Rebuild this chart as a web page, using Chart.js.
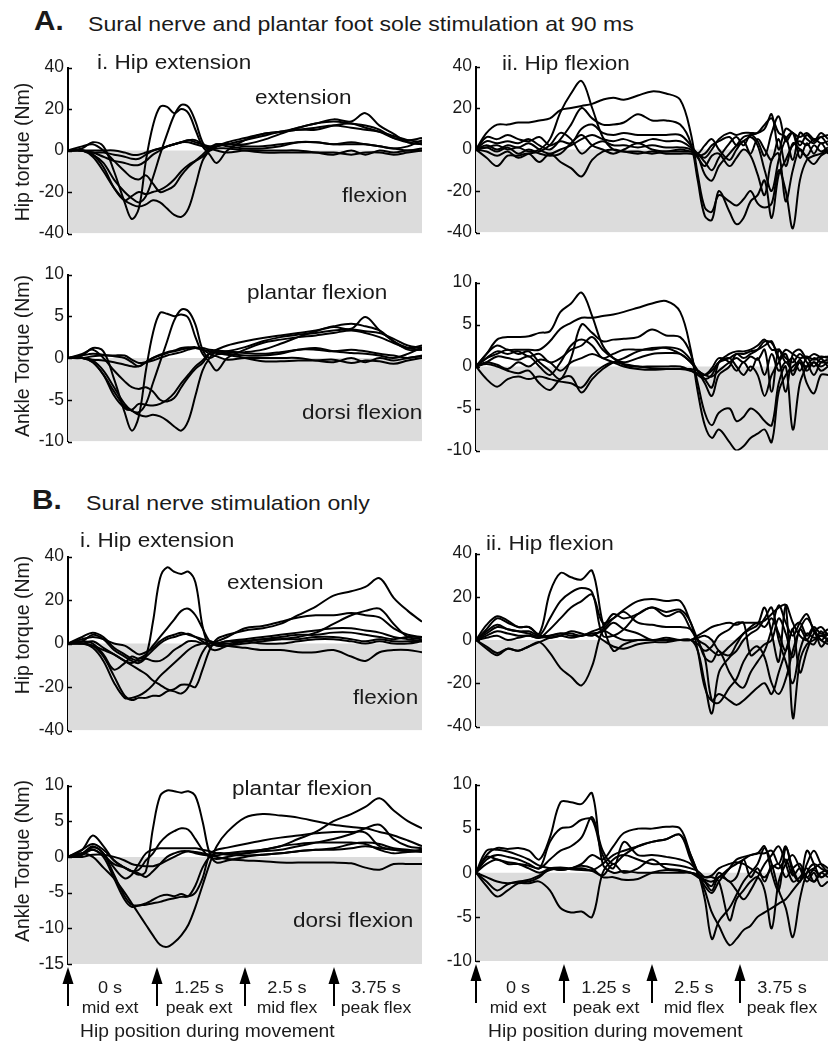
<!DOCTYPE html>
<html><head><meta charset="utf-8">
<script src="https://cdn.jsdelivr.net/npm/chart.js@4.4.1/dist/chart.umd.min.js"></script>
<style>
html,body{margin:0;padding:0;background:#fff;}
body{width:828px;height:1045px;position:relative;overflow:hidden;font-family:"Liberation Sans",Arial,Helvetica,sans-serif;color:#1a1a1a;}
canvas{position:absolute;z-index:1;}
.t{position:absolute;white-space:nowrap;line-height:1;z-index:5;}
</style>
</head><body>
<script>
// ---------- DATA ----------
const timeLeft  = [0,0.2,0.35,0.5,0.65,0.8,0.9,1.0,1.1,1.2,1.3,1.4,1.5,1.6,1.7,1.8,1.9,2.0,2.1,2.25,2.5,2.75,3.0,3.25,3.5,3.75,4.0,4.2,4.4,4.6,4.8,5.0];
const timeRight = [0,0.15,0.3,0.45,0.6,0.75,0.9,1.05,1.2,1.35,1.5,1.65,1.8,1.95,2.1,2.3,2.5,2.7,2.9,3.05,3.15,3.25,3.35,3.45,3.6,3.7,3.8,3.9,4.0,4.1,4.2,4.3,4.4,4.5,4.6,4.7,4.8,4.9,5.0];

const markerTimes  = [0, 1.25, 2.5, 3.75];
const markerTimeLabels  = ['0 s','1.25 s','2.5 s','3.75 s'];
const markerPhaseLabels = ['mid ext','peak ext','mid flex','peak flex'];

// A. sural + plantar, i. hip extension, hip torque (Nm)
const hipA_ext = [
 [0,1,4,2,-10,-25,-33,-28,-5,12,21,21,18,20,18,10,2,-2,-6,0,5,8,9,10,10,12,13,11,9,6,5,6],
 [0,0,-2,-6,-14,-20,-23,-25,-22,-13,-2,8,17,22,21,14,4,0,2,3,3,5,8,11,13,15,14,18,12,8,4,3],
 [0,0,-3,-10,-18,-24,-26,-27,-26,-24,-25,-28,-31,-32,-28,-17,-5,0,3,2,1,1,2,4,4,3,4,3,2,1,0,1],
 [0,0,-1,-1,-2,-3,-4,-4,-2,0,1,2,3,4,5,5,3,1,0,-1,0,0,0,0,-1,-2,0,-2,0,-1,0,0],
 [0,2,3,0,-5,-10,-13,-14,-12,-16,-20,-19,-17,-12,-8,-5,-2,1,2,3,5,7,9,10,11,12,11,10,9,7,5,4],
 [0,0,-1,-3,-5,-6,-7,-7,-5,-2,0,2,3,4,4,3,2,1,1,1,0,-1,-1,-1,-1,-1,-2,-1,-1,-2,-1,0],
 [0,0,0,0,0,-1,-2,-2,-1,0,1,2,3,4,5,4,3,2,3,3,2,2,3,4,4,3,3,3,2,1,2,5],
 [0,0,-2,-8,-18,-24,-22,-20,-21,-20,-19,-17,-14,-10,-7,-5,-3,0,2,4,6,8,9,11,13,14,13,12,10,6,4,3]
];
// A. i. ankle torque (Nm)
const ankleA_ext = [
 [0,0.3,1.2,0.8,-2.5,-6.5,-8.7,-7,-1.5,3,5.4,5.3,5,5.2,4.8,2.5,0.5,-0.5,-1.5,0,1,1.8,2.2,2.5,2.7,3,3.3,3,2.5,1.8,1.2,1.5],
 [0,0,-0.3,-1.5,-3.5,-5.5,-6.3,-6.5,-5.5,-3,-0.5,2,4.5,5.8,5.6,4,1,0,0.4,0.6,0.7,1,1.7,2.5,3.2,3.7,3.5,4.9,3.3,2,1,1],
 [0,0,-0.5,-2,-4,-5.8,-6.3,-6.8,-7,-6.8,-7,-7.5,-8.2,-8.7,-7.5,-4.5,-1.5,0,0.8,0.5,0.3,0.3,0.5,1,1,0.8,1,0.8,0.5,0.3,0,0.3],
 [0,0,-0.2,-0.3,-0.5,-0.8,-1,-1,-0.5,0,0.3,0.6,0.8,1,1.2,1.3,1,0.5,0.2,-0.2,0,0,0,0,-0.3,-0.5,0,-0.5,0,-0.3,0,0.2],
 [0,0.5,1,0,-1.5,-2.8,-3.5,-3.7,-3.5,-4,-5,-5.2,-4.8,-3.5,-2.3,-1.3,-0.6,0.5,0.7,0.8,1.3,2,2.5,2.8,3,3.3,3.4,3.2,3,2.3,1.5,1.2],
 [0,0.3,0.5,0.4,0.2,0,-0.5,-1,-0.5,0,0.4,0.7,0.9,1.2,1.3,1.2,1,0.8,0.6,0.4,0,-0.4,-0.4,-0.3,-0.3,-0.2,-0.6,-0.3,-0.4,-0.7,-0.3,0],
 [0,0,0.2,0.3,0.3,0.3,-0.2,-0.6,-0.5,-0.3,0,0.3,0.5,0.7,1,1.2,1.2,1,0.9,0.8,0.6,0.5,0.7,1,1.2,0.8,0.6,0.5,0.3,0,0.5,1.3],
 [0,0,-0.5,-2,-4.5,-6,-6.2,-5.5,-5.6,-5.7,-5.5,-5,-4.2,-3,-2,-1,-0.3,0.6,1,1.5,2,2.4,2.7,3,3.3,3.8,4.1,3.8,3.3,2,1.2,1]
];
// A. ii. hip flexion, hip torque (Nm)
const hipA_flex = [
 [0,1,2,0,1,-1,0,5,18,27,33,20,6,0,-1,-1,-2,-1,-1,-1,-2,-4,0,5,8,7,8,8,8,10,17,0,10,8,6,8,5,6,7],
 [0,8,12,12,13,13,14,15,19,20,21,22,24,25,24,26,28,27,24,8,-12,-28,-30,-22,-25,-27,-24,-20,-26,-28,-26,-10,-20,-38,-15,-5,-3,-2,0],
 [0,4,3,4,3,5,2,0,5,12,20,15,12,12,13,17,14,14,12,3,-15,-32,-34,-20,-30,-36,-33,-25,-22,-15,-33,-12,-5,2,4,2,5,3,4],
 [0,6,5,7,5,4,6,2,4,3,10,12,8,7,8,7,7,7,7,2,-3,-12,-15,-8,-2,2,6,7,8,12,15,8,6,-5,8,5,3,6,2],
 [0,2,0,2,1,3,0,-2,0,2,5,7,5,4,5,3,5,4,4,1,-2,-6,-10,-4,3,6,2,7,4,-3,8,16,4,8,2,7,4,8,5],
 [0,-4,-8,-3,-3,-2,-6,-2,-6,-9,-13,-5,-1,0,-1,-2,-1,-2,-2,-2,-3,-2,2,4,6,2,4,6,2,-10,-20,-5,5,8,-4,3,-2,3,-2],
 [0,1,-1,1,-2,0,-2,-3,-2,3,7,2,0,-2,0,3,0,-1,0,-1,-2,2,5,0,-5,0,4,-2,5,0,-5,5,-8,3,0,-3,2,-1,1],
 [0,-1,-3,-1,-4,-2,-1,2,8,5,-2,2,4,2,2,1,2,1,1,0,-4,-8,-3,-2,-8,-4,0,-3,-12,-22,-5,-2,-25,-10,0,-4,-7,-3,-1]
];
// A. ii. ankle torque (Nm)
const ankleA_flex = [
 [0,1.5,3.2,3.5,3.5,3.6,4,4.2,6.5,7.5,8.8,6,2.5,1,0.2,0,-0.2,-0.3,-0.3,-0.3,-0.5,-1,-0.5,0.5,1,1.5,1.5,1.8,2,2.5,3,1,2,1.5,1,1.2,0.8,1.2,1],
 [0,1.5,2.5,2,2,2,2,3,4.5,5.2,5.8,5.8,6,6.2,6.5,7,7.5,7.8,6.5,2,-3,-7,-8.5,-7.5,-9,-10,-9.5,-8.5,-8,-7.5,-9,-3,-1,0,0.5,0,0.5,0,0.5],
 [0,1,1.5,2,1.5,1.8,0.5,-0.5,-1.5,1,5,4,3,3.2,3.3,3.5,4.4,3.7,3.5,1.5,-2,-5.5,-7,-5.5,-5,-6.5,-6,-5,-5.5,-6.5,-7,-2,0,-7.5,-2,0,1,0.5,0.5],
 [0,0.5,1.2,1,0.8,1.2,0,-1,0.5,2.5,3.2,2.5,1,1.5,2,2,2,2.3,2,0.8,-0.5,-2,-3.5,-1,0,1.5,1,1.5,2,3,2.8,1,-3,1.5,2,1,1.5,1,0],
 [0,-1.5,-2.4,-1.5,-1.2,-1.5,-1.2,-1.5,-1.8,-2,-2.5,-1,0,0.5,0.3,0,0,0,0,-0.5,-1,-1.5,-1,0.5,1,0,-1,0,-1,-3.5,-1,0.5,1.5,-1,0.5,-2,-3.2,-1,-1],
 [0,0.3,0,-0.5,-0.8,-0.5,-2,-2.8,-1.5,-1.2,-3.1,-1.5,-0.3,0.5,1,1.8,2.2,2.2,1.5,0.5,-0.5,-1,-1.2,-0.5,0.5,1,0.5,1.2,0.8,2,-3,2,0.5,1,-0.5,1,0,1,1.2],
 [0,0.5,0.2,-0.3,0.5,0,0.8,0.5,-0.5,0.5,1,1.5,1,0.5,0,-0.3,-0.4,-0.3,-0.3,-0.5,-0.8,-1,-0.2,1,0.5,-0.5,0.5,-0.5,1,-1,1.5,-0.5,0.5,-0.5,0.8,-0.5,0.5,-0.5,0],
 [0,1,1.8,1.5,1.8,1.2,1.5,0.5,1,2,2.5,3.5,2,1,0.5,1,1.5,1.6,1.5,0.5,-0.5,-1.5,-2.5,0.5,1.5,1.8,1.8,2,2.5,3.2,2,2,1,0.5,1.5,0.5,-1,0.5,0.8]
];
// B. sural only, i. hip extension, hip torque (Nm)
const hipB_ext = [
 [0,1,4,2,-3,-6,-8,-9,-6,10,30,35,33,32,33,28,8,-2,-3,-1,1,2,2,2,3,3,2,1,2,1,1,1],
 [0,0,1,-2,-5,-8,-9,-7,-5,-1,3,7,11,15,16,13,7,1,-1,-1,0,1,2,3,5,9,13,15,16,9,3,2],
 [0,0,-1,-6,-15,-24,-26,-25,-25,-24,-24,-22,-21,-19,-19,-20,-12,-3,2,4,6,7,9,13,17,22,24,26,30,21,15,10],
 [0,0,-1,-3,-5,-8,-10,-12,-14,-17,-19,-21,-22,-23,-20,-12,-4,0,1,3,7,8,10,12,13,13,14,13,12,7,4,3],
 [0,1,0,-5,-12,-9,-6,-7,-6,-3,0,2,3,4,4.5,3,1,-1,0,1,2,3,4,5,6,7,7,6,5,3,2,1],
 [0,0,-2,-8,-18,-25,-25,-24,-22,-19,-15,-12,-9,-6,-3,-1,0,1,0,-1,-2,-3,-3,-4,-4,-3,-6,-8,-4,-3,-3,-4],
 [0,2,3,2,0,-1,-3,-5,-4,-2,1,3,4,5,4,3,2,1,0,0,1,2,3,4,4,5,5,4,3,2,3,3],
 [0,3,5,3,-2,-5,-7,-8,-7,-8,-8,-6,-3,-1,1,1,0,0,0,1,1,0,0,1,2,2,1,0,1,0,0,1]
];
// B. i. ankle torque (Nm)
const ankleB_ext = [
 [0,1,3,1.5,-0.5,-1.5,-2,-2.5,-2,4,8.5,9.3,9.2,9,9.2,8.5,5,0.5,-0.8,-0.5,0,0.3,0.5,0.8,1,1,1.2,1.5,1.2,1,0.8,0.8],
 [0,0.5,0,-1.5,-3,-5,-6.5,-8,-9.5,-11,-12.3,-12.6,-12,-11,-9.5,-7,-4,-1,1.5,3.5,5.5,6,5.8,5.5,5,4.5,4.2,4,3.5,3,2.3,1.5],
 [0,1,1.8,1,-0.5,-1.5,-2,-1.8,-0.5,0.5,2,3,3.6,4,3.8,2.5,1,0,-0.3,0,0.5,1,1.5,2.5,3.5,5,6,7,8.2,6.5,5,4],
 [0,0.5,1,0,-3,-6,-7,-6.8,-6.7,-6.5,-6.3,-6,-5.8,-5.6,-5.5,-4,-1.5,0,0.5,0.5,0.5,0.8,1,1.5,2,2.5,3.2,4,4.5,2.5,1.5,1.2],
 [0,0.3,1.3,0.5,-2.5,-5.5,-6.7,-6.8,-6.5,-6,-5.5,-5.3,-5.5,-5.2,-5.5,-5,-3,0.3,1,1.3,1.8,2.3,2.7,3,3.3,3.5,3.5,3.4,1.5,1,0.8,1],
 [0,0.5,1.5,0.5,-1.5,-3,-2.5,-1,0.5,1,1.2,1.2,1.2,1.2,1.2,1.2,1,0.8,0.5,0.3,0.2,0.3,0.5,0.8,1,1.2,1.8,2,1.8,1.2,1,0.7],
 [0,0.3,1,0.2,-1,-1.5,-2,-2.3,-2.8,-2,-1,0,0.5,0.8,0.8,0.5,0.3,0.2,0.2,0.5,0.8,1,1.5,1.8,2,2,2,1.8,1,0.5,0.7,0.8],
 [0,0,0.3,0.3,0,-0.5,-1,-1.2,-1.3,-1.3,-1,-0.5,0,0.5,0.8,0.7,0.5,0.3,0,-0.3,-0.5,-0.6,-0.8,-0.8,-0.8,-0.8,-0.9,-1.5,-1.8,-1,-1,-1]
];
// B. ii. hip flexion, hip torque (Nm)
const hipB_flex = [
 [0,5,10,8,6,6,3,22,31,29,28,32,8,-5,-2,0,0,0,0,0,-5,-20,-34,-15,-8,-5,0,3,5,10,15,0,-10,-20,-5,3,1,2,0],
 [0,3,6,5,4,3,2,10,18,22,24,22,2,2,5,12,15,13,14,8,-5,-22,-28,-25,-28,-30,-28,-25,-22,-20,-25,-15,-5,5,8,2,6,3,5],
 [0,2,4,3,2,2,1,5,10,15,18,21,8,10,13,8,7,6,6,5,0,-8,-10,-5,-15,-20,-22,-15,-10,-5,5,16,8,2,8,12,4,0,3],
 [0,-3,-6,-4,-5,-3,-1,-6,-13,-17,-21,-12,4,2,0,0,0,0,0,0,-2,-5,-3,2,5,8,8,8,8,9,12,15,16,-36,-10,-2,0,2,3],
 [0,7,11,9,6,6,2,1,2,4,3,2,5,10,14,18,19,18,18,8,0,-8,-28,-29,-22,-18,-10,-5,-3,-8,-20,-25,-18,-5,5,10,5,0,-2],
 [0,4,7,5,4,4,2,2,3,3,2,4,6,12,10,12,15,11,13,5,0,-2,-5,-7,-3,0,3,6,8,6,10,3,-5,5,-15,-5,3,6,2],
 [0,-4,-7,-4,-5,-3,-1,1,2,1,2,3,0,-3,-4,-2,-1,-1,0,0,2,4,6,7,8,7,8,-7,-5,-2,0,10,3,-8,5,0,-2,4,-1],
 [0,1,2,0,1,2,1,2,3,2,2,3,4,8,5,3,0,1,0,0,1,2,0,-5,-7,-2,3,5,7,15,3,-10,16,8,2,0,5,-3,1]
];
// B. ii. ankle torque (Nm)
const ankleB_flex = [
 [0,2,2.8,2.7,2.8,2.5,1.5,4,8,8,7.8,9,1,0,0.2,0,0,0,0,0,-0.3,-0.8,-1,-0.5,0.5,1,1.5,2,2.2,3,0,-2,2.8,0.5,-1,2.5,1,-0.5,0],
 [0,1.5,2,1.8,1.5,1,0.5,3.5,5,5.2,6,6,2,0.5,3.5,2,2,1.8,1.5,1,0,-3,-7.5,-5.5,-4,-2.5,-1,0,1,2.8,1,-2,-4,-7.3,-3,0,1,0.5,0],
 [0,1,1.5,1,1,0.8,0.5,1.5,2.5,3,4,6.3,2.5,1,2,3,3.5,3.8,4.3,2,0,-2,-4.5,-6,-8.2,-7.5,-6.5,-6,-5,-4.5,-4,-3.5,-3,-2,-1,0,0.5,1,0.5],
 [0,-1.5,-2.7,-2,-1.2,-1.2,-1,-2,-4,-4.5,-4.4,-5,0,1.5,2,1.5,1,1,0.8,0.5,0.2,-0.5,-0.5,-1,-5.4,-3,-2,-1,-0.5,-2,-6.3,-1,1,2,0.5,-1,0,-1.5,-1],
 [0,2.5,2.6,2.4,2,1.5,0.8,0.5,0.3,0.5,1,2,1.5,3,4.5,5,5,5.2,5,2,0,-1.5,-2.3,-1,0.5,1.5,1.8,2,2.2,2.2,2.5,1,3,0,-1,1,2.5,1,0],
 [0,1.8,1.5,1.2,1,0.5,0,0.5,0.6,0.5,0.5,0.3,1,2,2.5,3,3.5,3.8,4.3,1.5,0,-1,-2,-0.5,-1,-2,-3,-2,-0.5,1,2,3,1,-1,-0.5,0.5,-1,0,0.3],
 [0,-0.5,-1,-1.2,-1.1,-1,-0.5,0.5,0.3,0.5,0.8,0.5,-0.5,-0.5,-0.8,-0.7,0,0.3,0.2,0,-0.2,-0.5,-0.3,0.5,1,1.2,1,0.5,0,-0.5,0.5,1,-0.5,0.5,1,-0.5,0.3,-0.5,0],
 [0,-1,-2,-1.3,-1,-0.8,-0.3,0.3,0.5,0.4,0.3,0.2,-0.3,1,0,0.5,1.5,0.5,0.3,0,-0.5,-1,-1.5,0,-1,-0.5,1.5,-0.5,0.5,-1,0.8,0.5,1.5,-0.3,0.5,-0.5,-1,0,-0.5]
];

// ---------- DRAWING ----------
const FONT = '"Liberation Sans", Arial, Helvetica, sans-serif';
const INK = '#1a1a1a';
const SX = 1.1; // horizontal stretch of the reference lettering

const innerTicks = {
  id: 'innerTicks',
  afterDraw(chart) {
    const s = chart.scales.y, ctx = chart.ctx, left = chart.chartArea.left;
    ctx.save(); ctx.strokeStyle = '#000'; ctx.lineWidth = 1.5;
    s.ticks.forEach(t => {
      const y = Math.round(s.getPixelForValue(t.value)) + 0.5;
      ctx.beginPath(); ctx.moveTo(left, y); ctx.lineTo(left + 4, y); ctx.stroke();
    });
    ctx.restore();
  }
};
const arrowMarks = {
  id: 'arrowMarks',
  afterDraw(chart) {
    const x = chart.scales.x, ctx = chart.ctx, b = chart.chartArea.bottom;
    ctx.save(); ctx.fillStyle = '#000'; ctx.strokeStyle = '#000'; ctx.lineWidth = 2;
    markerTimes.forEach(t => {
      const px = Math.round(x.getPixelForValue(t));
      ctx.beginPath(); ctx.moveTo(px, b + 3); ctx.lineTo(px - 5.5, b + 20); ctx.lineTo(px + 5.5, b + 20); ctx.closePath(); ctx.fill();
      ctx.beginPath(); ctx.moveTo(px, b + 18); ctx.lineTo(px, b + 42); ctx.stroke();
    });
    ctx.restore();
  }
};

function panel(cfg) {
  const cv = document.createElement('canvas');
  const padT = 12, padB = cfg.arrows ? 48 : 12, yw = 60;
  const W = cfg.right - cfg.axisX + yw;
  const H = cfg.bottom - cfg.top + padT + padB;
  cv.width = W; cv.height = H;
  const left = cfg.axisX - yw, top = cfg.top - padT;
  cv.style.left = left + 'px'; cv.style.top = top + 'px';
  cv.style.width = W + 'px'; cv.style.height = H + 'px';
  document.body.appendChild(cv);
  const datasets = [{
    data: [{x: 0, y: 0}, {x: 5, y: 0}],
    borderWidth: 0, borderColor: 'rgba(0,0,0,0)', pointRadius: 0,
    fill: {value: cfg.min}, backgroundColor: '#dcdcdc', order: 100
  }];
  cfg.traces.forEach(tr => datasets.push({
    data: tr.map((v, i) => ({x: cfg.time[i], y: v})),
    borderColor: '#000', borderWidth: 2, pointRadius: 0, tension: 0.35, fill: false, order: 1
  }));
  const chart = new Chart(cv, {
    type: 'line',
    data: {datasets},
    options: {
      responsive: false, animation: false, devicePixelRatio: 1,
      layout: {padding: {top: padT, bottom: padB, left: 0, right: 0}},
      plugins: {legend: {display: false}, tooltip: {enabled: false}},
      scales: {
        x: {type: 'linear', min: 0, max: 5, display: false},
        y: {
          min: cfg.min, max: cfg.max,
          ticks: {stepSize: cfg.step, font: {family: FONT, size: 17.5}, color: INK, padding: 4},
          grid: {display: false, drawTicks: false},
          border: {display: true, color: '#000', width: 2},
          afterFit(s) { s.width = yw; }
        }
      }
    },
    plugins: cfg.arrows ? [innerTicks, arrowMarks] : [innerTicks]
  });
  if (cfg.arrows) {
    const xs = chart.scales.x;
    markerTimes.forEach((t, i) => {
      const cx = left + xs.getPixelForValue(t + 0.6);
      text(markerTimeLabels[i], cx, 987, 16.5, {center: true});
      text(markerPhaseLabels[i], cx, 1008, 16, {center: true});
    });
    text('Hip position during movement', left + xs.getPixelForValue(0.17), 1032, 17.5, {});
  }
  return chart;
}

function text(str, x, cy, size, o) {
  const d = document.createElement('div');
  d.className = 't';
  d.textContent = str;
  d.style.fontSize = size + 'px';
  if (o.bold) d.style.fontWeight = 'bold';
  d.style.left = x + 'px'; d.style.top = cy + 'px';
  if (o.rotate) {
    d.style.transformOrigin = '50% 50%';
    d.style.transform = 'translate(-50%,-50%) rotate(-90deg)';
  } else if (o.center) {
    d.style.transformOrigin = '50% 50%';
    d.style.transform = 'translate(-50%,-50%) scaleX(' + SX + ')';
  } else {
    d.style.transformOrigin = '0 50%';
    d.style.transform = 'translateY(-50%) scaleX(' + SX + ')';
  }
  document.body.appendChild(d);
}

// headings and annotations
text('A.', 34, 21, 27, {bold: true});
text('Sural nerve and plantar foot sole stimulation at 90 ms', 88, 23, 21, {});
text('i. Hip extension', 97, 62, 20.5, {});
text('ii. Hip flexion', 502, 63, 20.5, {});
text('extension', 255, 97, 20.5, {});
text('flexion', 342, 195, 20.5, {});
text('plantar flexion', 247, 292, 20.5, {});
text('dorsi flexion', 302, 412, 20.5, {});
text('Hip torque (Nm)', 23, 152, 19.5, {rotate: true});
text('Ankle Torque (Nm)', 23, 356, 19.5, {rotate: true});

text('B.', 32, 500, 27, {bold: true});
text('Sural nerve stimulation only', 86, 502, 21, {});
text('i. Hip extension', 80, 540, 20.5, {});
text('ii. Hip flexion', 486, 543, 20.5, {});
text('extension', 227, 582, 20.5, {});
text('flexion', 353, 697, 20.5, {});
text('plantar flexion', 232, 788, 20.5, {});
text('dorsi flexion', 293, 920, 20.5, {});
text('Hip torque (Nm)', 23, 625, 19.5, {rotate: true});
text('Ankle Torque (Nm)', 23, 861, 19.5, {rotate: true});

panel({axisX: 68, right: 422, top: 65, bottom: 236, min: -40, max: 40, step: 20, time: timeLeft, traces: hipA_ext});
panel({axisX: 476, right: 828, top: 64, bottom: 235, min: -40, max: 40, step: 20, time: timeRight, traces: hipA_flex});
panel({axisX: 68, right: 422, top: 272, bottom: 444, min: -10, max: 10, step: 5, time: timeLeft, traces: ankleA_ext});
panel({axisX: 476, right: 828, top: 280, bottom: 453, min: -10, max: 10, step: 5, time: timeRight, traces: ankleA_flex});
panel({axisX: 68, right: 422, top: 554, bottom: 733, min: -40, max: 40, step: 20, time: timeLeft, traces: hipB_ext});
panel({axisX: 476, right: 828, top: 551, bottom: 729, min: -40, max: 40, step: 20, time: timeRight, traces: hipB_flex});
panel({axisX: 68, right: 422, top: 783, bottom: 964, min: -15, max: 10, step: 5, time: timeLeft, traces: ankleB_ext, arrows: true});
panel({axisX: 476, right: 828, top: 782, bottom: 961, min: -10, max: 10, step: 5, time: timeRight, traces: ankleB_flex, arrows: true});
</script>
</body></html>
